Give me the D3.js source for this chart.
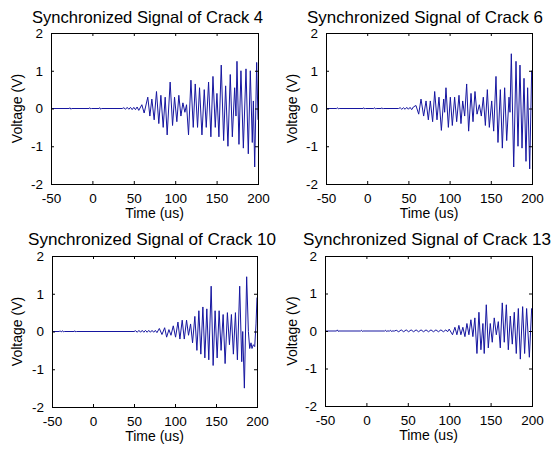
<!DOCTYPE html>
<html>
<head>
<meta charset="utf-8">
<script src="https://cdn.jsdelivr.net/npm/d3@7"></script>
<style>
  html, body { margin: 0; padding: 0; background: #fff; }
  svg { display: block; }
  text { font-family: "Liberation Sans", Arial, Helvetica, sans-serif; fill: #000; font-weight: normal; }
</style>
</head>
<body>
<script>
// Axis ranges and tick labels shared by all four panels
const timeTicks = [-50, 0, 50, 100, 150, 200];
const voltTicks = [-2, -1, 0, 1, 2];
const titles = [
  "Synchronized Signal of Crack 4",
  "Synchronized Signal of Crack 6",
  "Synchronized Signal of Crack 10",
  "Synchronized Signal of Crack 13"
];

// Signal turning points [time (us), voltage (V)] for each crack
const crack4 = [
  [-50,0],[-28,0],[-27,0.02],[-26,-0.02],[-25,0],[-4,0],[-3,0.02],[-2,-0.01],[-1,0],
  [8,0],[9,0.02],[10,-0.02],[11,0],[36,0],[38,0.02],[40,-0.02],[42,0.03],[44,-0.02],
  [46,0.03],[48,-0.03],[50,0.03],[52,-0.03],[54,0.04],[56,-0.05],
  [59.7,0.1],[62.5,-0.12],[66.9,0.3],[69.4,-0.2],[71.8,0.25],[74.6,-0.3],[77.4,0.45],
  [80.2,-0.4],[82.7,0.35],[85.5,-0.5],[87.9,0.3],[90.3,-0.7],[93.9,0.7],[96.8,-0.45],
  [99.2,0.3],[102.0,-0.35],[104.4,0.35],[106.9,-0.2],[109.3,0.15],[111.7,-0.1],[113.7,0.1],
  [116.1,-0.7],[119.0,0.75],[121.8,-0.5],[124.2,0.65],[127.0,-0.5],[129.4,0.55],[132.3,-0.7],
  [135.1,0.5],[137.5,-0.5],[140.3,0.7],[143.1,-0.75],[145.6,0.85],[148.4,-0.5],[150.4,0.4],
  [152.8,-0.75],[155.6,1.15],[158.5,-0.85],[160.9,0.6],[163.7,-1.0],[166.5,0.9],[169.0,-0.75],
  [171.8,0.55],[173.4,-0.2],[174.6,1.25],[177.0,-0.95],[179.4,1.0],[182.3,-1.05],[185.5,1.05],
  [188.3,-1.2],[190.7,1.0],[193.1,-0.9],[194.4,0.2],[196.0,-1.55],[198.4,1.22],[200,-0.3]
];
const crack6 = [
  [-50,0],[-37,0],[-36,0.02],[-35,-0.01],[-34,0],[-5,0],[-4,0.02],[-3,-0.01],[-2,0],
  [8,0],[9,0.02],[10,-0.01],[11,0],[17,0],[18,0.02],[19,-0.01],[20,0],[38,0],[40,0.02],
  [42,-0.02],[44,0.02],[46,-0.02],[48,0.03],[50,-0.02],[52,0.03],[54,-0.03],[56,0.04],
  [59.2,0.08],[62.5,-0.15],[65.3,0.25],[68.5,-0.2],[71.4,0.2],[74.2,-0.3],[76.6,0.2],
  [79.4,-0.35],[81.9,0.45],[84.7,-0.3],[87.1,0.3],[90.0,-0.58],[92.8,0.25],[94.0,-0.1],
  [95.6,0.55],[98.5,-0.5],[100.9,0.3],[103.3,-0.45],[106.1,0.3],[108.6,-0.35],[111.4,0.35],
  [113.8,-0.4],[115.9,0.2],[118.3,-0.2],[120.7,0.65],[123.1,-0.6],[126.0,0.4],[128.4,-0.35],
  [130.8,0.45],[133.3,-0.15],[136.1,0.1],[138.5,-0.2],[140.9,0.3],[143.4,-0.45],[145.8,0.5],
  [148.2,-0.5],[151.1,0.2],[153.5,-0.6],[156.3,0.85],[158.7,-0.9],[161.6,0.5],[164.0,-1.05],
  [166.8,0.55],[169.3,-0.85],[172.1,0.3],[173.3,-0.1],[174.9,1.45],[177.8,-1.55],[180.6,1.25],
  [183.0,-1.0],[185.4,1.15],[187.9,-1.05],[190.3,0.8],[192.7,-1.4],[194.7,0.55],[197.2,-1.6],
  [199.6,1.0],[200,0.9]
];
const crack10 = [
  [-50,0],[-41,0],[-40,0.02],[-39,-0.01],[-38,0],[-37,0.02],[-36,-0.01],[-35,0],[-23,0],
  [-22,0.02],[-21,-0.01],[-20,0],[50,0],[52,0.02],[54,-0.02],[56,0.03],[58,-0.02],[60,0.03],
  [62,-0.02],[64,0.03],[66,-0.02],[68,0.03],[70,-0.02],[72,0.03],[74,-0.02],[76,0.03],[78,-0.03],
  [80.9,0.08],[84.1,-0.08],[87.4,0.1],[89.8,-0.15],[92.6,0.05],[95.1,-0.1],[97.9,0.15],
  [100.7,-0.15],[103.6,0.25],[106.0,-0.2],[108.8,0.3],[111.3,-0.2],[114.1,0.3],[116.5,-0.1],
  [119.0,0.2],[121.4,-0.3],[124.2,0.4],[126.7,-0.5],[129.1,0.55],[131.5,-0.6],[134.0,0.65],
  [136.4,-0.7],[138.8,0.6],[141.2,-0.75],[144.1,1.2],[146.5,-0.9],[148.9,0.55],[151.4,-0.7],
  [153.8,0.55],[156.2,-0.5],[158.7,0.45],[161.1,-0.85],[163.9,0.5],[166.4,-0.35],[168.8,0.45],
  [171.2,-0.6],[173.7,0.5],[176.1,-0.75],[178.9,1.2],[181.4,-0.8],[182.6,0.0],[184.6,-1.5],
  [187.4,1.45],[189.5,0.0],[191.1,-0.45],[192.7,-0.3],[193.9,-0.45],[195.5,-0.35],[197.2,-0.4],
  [198.8,0.2],[200,0.9]
];
const crack13 = [
  [-50,0],[-36,0],[-35,0.03],[-34,-0.01],[-33,0],[-7,0],[-6,0.02],[-5,-0.01],[-4,0],
  [22,0],[23,0.02],[24,-0.01],[25,0],[28,0],[29,0.02],[30,-0.01],[31,0],[34,0],[36,0.02],
  [39,-0.02],[42,0.03],[45,-0.02],[48,0.03],[51,-0.02],[54,0.03],[57,-0.02],[60,0.03],
  [63,-0.02],[66,0.03],[69,-0.02],[72,0.03],[75,-0.02],[78,0.03],[81,-0.02],[84,0.03],
  [87,-0.02],[90,0.03],[93,-0.02],[96,0.03],[98,-0.02],
  [100,0.05],[104.0,-0.1],[106.9,0.1],[109.3,-0.1],[111.7,0.15],[114.1,-0.1],[116.5,0.1],
  [119.0,-0.15],[121.4,0.2],[123.8,-0.1],[126.2,0.3],[128.6,-0.15],[131.0,0.35],[133.5,-0.6],
  [135.9,0.5],[138.3,-0.5],[140.7,0.2],[142.3,-0.6],[144.8,0.7],[147.2,-0.45],[149.6,0.2],
  [152.0,-0.3],[154.4,0.35],[156.9,-0.1],[159.3,0.25],[161.7,-0.45],[164.1,0.75],[166.5,-0.3],
  [169.0,0.7],[171.4,-0.5],[173.8,0.4],[176.2,-0.35],[178.6,0.5],[181.0,-0.6],[183.5,0.6],
  [185.9,-0.75],[188.7,0.65],[191.1,-0.6],[193.5,0.6],[196.8,-0.7],[199.6,0.6],[200,0.55]
];
const signals = [crack4, crack6, crack10, crack13];

// Panel frames (plot-area boxes in pixels) and title placement
const W = 552, H = 449;
const frames = [
  { left: 51,  top: 33,  width: 207, height: 151, titleX: 147.5, titleW: 231, titleY: 23,  ylabX: 22 },
  { left: 326, top: 33,  width: 206, height: 151, titleX: 425,   titleW: 236, titleY: 23,  ylabX: 297 },
  { left: 52,  top: 256, width: 205, height: 151, titleX: 152,   titleW: 248, titleY: 245, ylabX: 22 },
  { left: 325, top: 256, width: 207, height: 150, titleX: 427,   titleW: 248, titleY: 245, ylabX: 297 }
];

const svg = d3.select("body").append("svg")
  .attr("width", W).attr("height", H);

svg.append("rect").attr("width", W).attr("height", H).attr("fill", "#fff");

const lineColor = "#1616a0";
const minusFmt = d => (d < 0 ? "-" + Math.abs(d) : String(d));

frames.forEach((f, i) => {
  const x = d3.scaleLinear().domain([-50, 200]).range([0, f.width]);
  const y = d3.scaleLinear().domain([-2, 2]).range([f.height, 0]);

  const g = svg.append("g").attr("transform", `translate(${f.left},${f.top})`);

  g.append("clipPath").attr("id", "clip" + i)
    .append("rect").attr("width", f.width).attr("height", f.height);

  // Waveform: straight segments between samples
  const line = d3.line()
    .x(d => x(d[0]))
    .y(d => y(d[1]));

  g.append("path")
    .datum(signals[i])
    .attr("clip-path", `url(#clip${i})`)
    .attr("fill", "none")
    .attr("stroke", lineColor)
    .attr("stroke-width", 1)
    .attr("stroke-linejoin", "round")
    .attr("d", line);

  // Inward ticks on all four sides (boxed axes)
  const tl = 3;
  const bottom = d3.axisBottom(x).tickValues(timeTicks).tickSizeInner(-tl).tickSizeOuter(0)
    .tickPadding(tl + 6).tickFormat(minusFmt);
  const top = d3.axisTop(x).tickValues(timeTicks).tickSizeInner(-tl).tickSizeOuter(0)
    .tickFormat("");
  const left = d3.axisLeft(y).tickValues(voltTicks).tickSizeInner(-tl).tickSizeOuter(0)
    .tickPadding(tl + 5).tickFormat(minusFmt);
  const right = d3.axisRight(y).tickValues(voltTicks).tickSizeInner(-tl).tickSizeOuter(0)
    .tickFormat("");

  const styleAxis = sel => {
    sel.attr("font-family", null).attr("font-size", null);
    sel.select(".domain").remove();
    sel.selectAll("line").attr("stroke", "#000").attr("stroke-width", 1);
    sel.selectAll("text")
      .style("font-size", "13.5px")
      .attr("fill", "#000");
  };

  g.append("g").attr("transform", `translate(0,${f.height})`).call(bottom).call(styleAxis);
  g.append("g").call(top).call(styleAxis);
  g.append("g").call(left).call(styleAxis);
  g.append("g").attr("transform", `translate(${f.width},0)`).call(right).call(styleAxis);

  // Box
  g.append("rect")
    .attr("width", f.width).attr("height", f.height)
    .attr("fill", "none").attr("stroke", "#000").attr("stroke-width", 1)
    .attr("shape-rendering", "crispEdges");

  // Axis labels
  g.append("text")
    .attr("x", f.width / 2)
    .attr("y", f.height + 34)
    .attr("text-anchor", "middle")
    .style("font-size", "14px")
    .text("Time (us)");

  g.append("text")
    .attr("transform", `translate(${f.ylabX - f.left},${f.height / 2}) rotate(-90)`)
    .attr("text-anchor", "middle")
    .style("font-size", "14px")
    .text("Voltage (V)");
});

// Titles, drawn last so they sit above neighbouring content
frames.forEach((f, i) => {
  svg.append("text")
    .attr("x", f.titleX)
    .attr("y", f.titleY)
    .attr("text-anchor", "middle")
    .attr("textLength", f.titleW)
    .attr("lengthAdjust", "spacingAndGlyphs")
    .style("font-size", "16.5px")
    .text(titles[i]);
});
</script>
</body>
</html>
